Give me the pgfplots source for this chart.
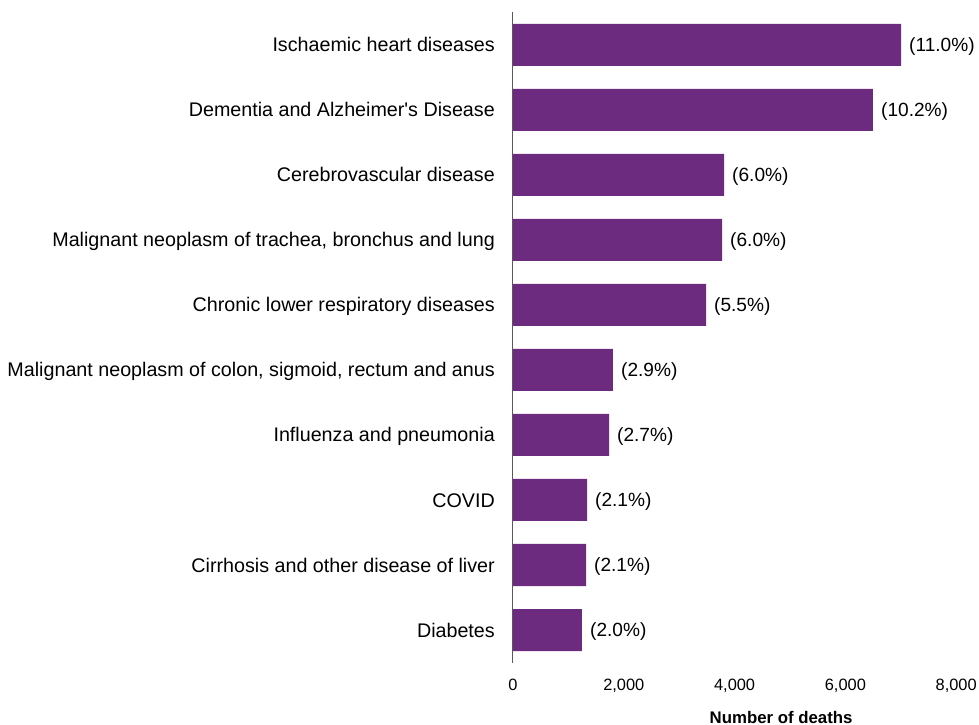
\documentclass[border=0pt]{standalone}
\usepackage{fontspec}
\setmainfont{Liberation Sans}
\usepackage{pgfplots}
\pgfplotsset{compat=1.18}
\definecolor{barpurple}{RGB}{108,43,127}
\definecolor{axgray}{RGB}{89,89,89}
\begin{document}
\begin{tikzpicture}
\path[use as bounding box] (-513bp,-62.5bp) rectangle (466bp,662.5bp);
\begin{axis}[
  at={(0,0)}, anchor=south west,
  scale only axis, width=443.2bp, height=650bp,
  xmin=0, xmax=8000, ymin=-0.5, ymax=9.5,
  xbar, bar width=42bp, bar shift=0pt,
  clip=false,
  axis lines*=left,
  axis line style={-},
  x axis line style={draw=none},
  y axis line style={draw=axgray, line width=1bp},
  major tick length=0pt,
  tick style={draw=none},
  xtick={0,2000,4000,6000,8000},
  scaled x ticks=false,
  /pgf/number format/1000 sep={,},
  /pgf/number format/assume math mode=true,
  x tick label style={anchor=base, inner sep=0pt, yshift=-27.5bp, font=\fontsize{16.4bp}{19bp}\selectfont},
  ytick={0,...,9},
  yticklabels={Diabetes, Cirrhosis and other disease of liver, COVID, Influenza and pneumonia, {Malignant neoplasm of colon, sigmoid, rectum and anus}, Chronic lower respiratory diseases, {Malignant neoplasm of trachea, bronchus and lung}, Cerebrovascular disease, Dementia and Alzheimer\textquotesingle s Disease, Ischaemic heart diseases},
  y tick label style={anchor=base east, inner sep=0pt, xshift=-18bp, yshift=-7bp, font=\fontsize{19.7bp}{22bp}\selectfont},
  point meta=explicit symbolic,
  nodes near coords={(\pgfplotspointmeta\%)},
  nodes near coords style={anchor=base west, inner sep=0pt, xshift=8bp, yshift=-6.9bp, font=\fontsize{19.1bp}{22bp}\selectfont, text=black},
  xlabel={Number of deaths},
  xlabel style={at={(axis description cs:0.605,0)}, anchor=base, inner sep=0pt, yshift=-60.5bp, font=\bfseries\fontsize{16.8bp}{20bp}\selectfont},
]
\addplot[fill=barpurple, draw=none] table[x=x, y=y, meta=lab] {
x y lab
7004 9 11.0
6498 8 10.2
3809 7 6.0
3773 6 6.0
3484 5 5.5
1805 4 2.9
1733 3 2.7
1336 2 2.1
1318 1 2.1
1245 0 2.0
};
\end{axis}
\end{tikzpicture}
\end{document}
